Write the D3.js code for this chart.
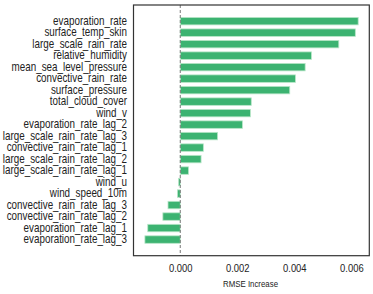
<!DOCTYPE html>
<html>
<head>
<meta charset="utf-8">
<script src="https://cdn.jsdelivr.net/npm/d3@7"></script>
<style>
  body { margin: 0; background: #fff; }
  text { font-family: "Liberation Sans", Arial, sans-serif; fill: #222; }
</style>
</head>
<body>
<svg id="chart" width="373" height="294"></svg>
<script>
// feature names, top to bottom
var features = [
    'evaporation_rate', 'surface_temp_skin', 'large_scale_rain_rate',
    'relative_humidity', 'mean_sea_level_pressure', 'convective_rain_rate',
    'surface_pressure', 'total_cloud_cover', 'wind_v', 'evaporation_rate_lag_2',
    'large_scale_rain_rate_lag_3', 'convective_rain_rate_lag_1',
    'large_scale_rain_rate_lag_2', 'large_scale_rain_rate_lag_1', 'wind_u',
    'wind_speed_10m', 'convective_rain_rate_lag_3', 'convective_rain_rate_lag_2',
    'evaporation_rate_lag_1', 'evaporation_rate_lag_3'
];
var rmseIncrease = [
    0.00624, 0.00614, 0.00556, 0.00460, 0.00438, 0.00404, 0.00384,
    0.00249, 0.00246, 0.00218, 0.00131, 0.00081, 0.00073, 0.00029,
    -0.00006, -0.00010, -0.00043, -0.00061, -0.00114, -0.00124
];
var xTicks = [0, 0.002, 0.004, 0.006];

var svg = d3.select('#chart');
var plotLeft = 133.5, plotRight = 369.3, plotTop = 5, plotBottom = 255.7;
var narrow = 'scale(0.82,1)';   // no narrow font installed, squeeze instead

var x = d3.scaleLinear().domain([-0.00164, 0.00663]).range([plotLeft, plotRight]);
var y = d3.scaleBand().domain(features).range([plotTop, plotBottom])
    .paddingInner(0.35).paddingOuter(1.08);

// bars
svg.append('g').selectAll('rect')
    .data(features)
    .enter().append('rect')
    .attr('x', function (d, i) { return x(Math.min(0, rmseIncrease[i])); })
    .attr('y', function (d) { return y(d); })
    .attr('width', function (d, i) { return Math.abs(x(rmseIncrease[i]) - x(0)); })
    .attr('height', y.bandwidth())
    .attr('fill', '#3cb371')
    .attr('stroke', '#b8e6c8')
    .attr('stroke-width', 0.8);

// zero line
svg.append('line')
    .attr('x1', x(0)).attr('x2', x(0))
    .attr('y1', plotTop).attr('y2', plotBottom)
    .attr('stroke', '#777')
    .attr('stroke-width', 1)
    .attr('stroke-dasharray', '3,2');

// frame
svg.append('rect')
    .attr('x', plotLeft).attr('y', plotTop)
    .attr('width', plotRight - plotLeft).attr('height', plotBottom - plotTop)
    .attr('fill', 'none')
    .attr('stroke', '#333')
    .attr('stroke-width', 1.2);

// y labels
var yAxis = d3.axisLeft(y).tickSize(0).tickPadding(8);
svg.append('g')
    .attr('transform', 'translate(' + plotLeft + ',0)')
    .call(yAxis)
    .attr('font-family', null)
    .call(function (g) { g.select('.domain').remove(); })
    .selectAll('text')
    .style('font-size', '12px')
    .attr('transform', narrow)
    .attr('fill', '#222');

// x axis
var xAxis = d3.axisBottom(x).tickValues(xTicks).tickSize(0).tickPadding(8)
    .tickFormat(d3.format('.3f'));
svg.append('g')
    .attr('transform', 'translate(0,' + plotBottom + ')')
    .call(xAxis)
    .attr('font-family', null)
    .call(function (g) { g.select('.domain').remove(); })
    .selectAll('text')
    .style('font-size', '11.5px')
    .attr('transform', narrow)
    .attr('fill', '#222');

svg.append('text')
    .attr('transform', 'translate(250.5,287) ' + narrow)
    .attr('text-anchor', 'middle')
    .style('font-size', '9.6px')
    .text('RMSE Increase');
</script>
</body>
</html>
